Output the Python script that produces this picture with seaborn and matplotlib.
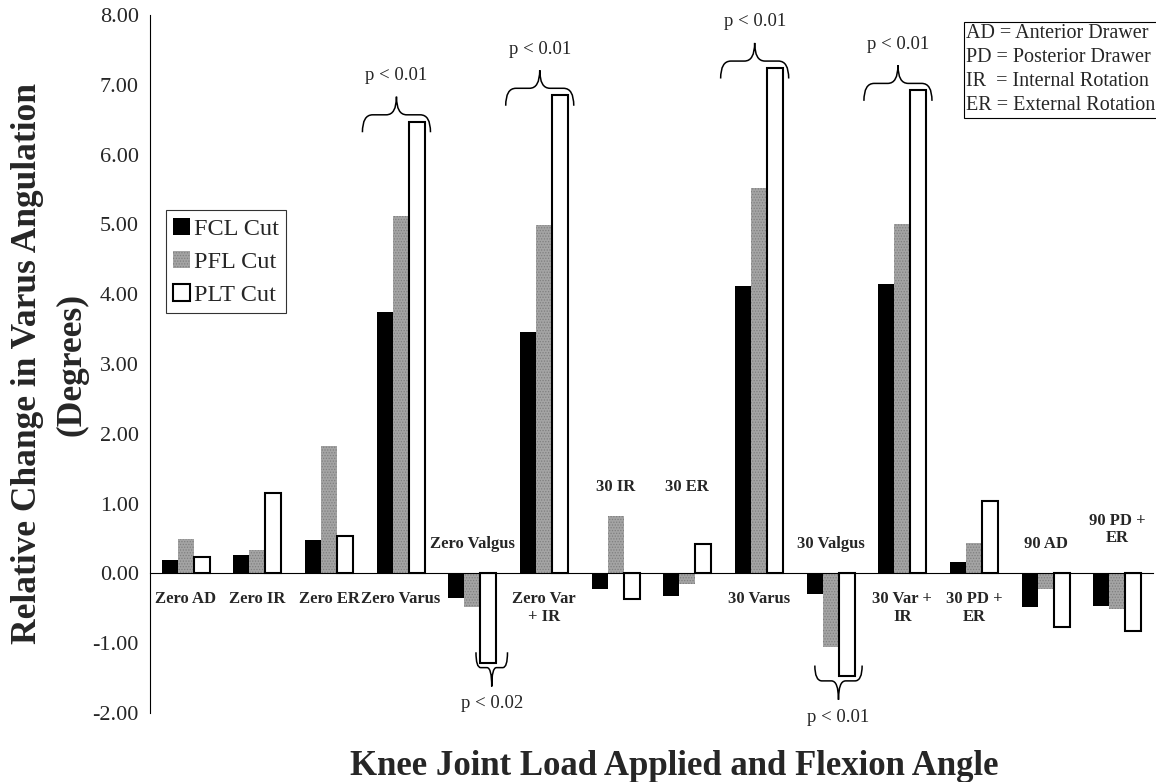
import numpy as np
import pandas as pd
import matplotlib
matplotlib.use("Agg")
import matplotlib.pyplot as plt
import seaborn as sns
from matplotlib.path import Path
from matplotlib.patches import PathPatch

# ---------------- data ----------------
categories = ["Zero AD", "Zero IR", "Zero ER", "Zero Varus", "Zero Valgus",
              "Zero Var + IR", "30 IR", "30 ER", "30 Varus", "30 Valgus",
              "30 Var + IR", "30 PD + ER", "90 AD", "90 PD + ER"]
tick_labels = ["Zero AD", "Zero IR", "Zero ER", "Zero Varus", "Zero Valgus",
               "Zero Var\n+ IR", "30 IR", "30 ER", "30 Varus", "30 Valgus",
               "30 Var +\nIR", "30 PD +\nER", "90 AD", "90 PD +\nER"]
series_names = ["FCL Cut", "PFL Cut", "PLT Cut"]
fcl_cut = [0.19, 0.27, 0.48, 3.74, -0.35, 3.46, -0.22, -0.33, 4.12, -0.30, 4.15, 0.16, -0.48, -0.46]
pfl_cut = [0.50, 0.33, 1.82, 5.12, -0.48, 4.99, 0.82, -0.15, 5.52, -1.06, 5.00, 0.44, -0.23, -0.51]
plt_cut = [0.23, 1.15, 0.53, 6.47, -1.28, 6.85, -0.37, 0.42, 7.24, -1.47, 6.92, 1.04, -0.77, -0.83]
y_ticks = [-2, -1, 0, 1, 2, 3, 4, 5, 6, 7, 8]
sig_up = [("Zero Varus", "p < 0.01"), ("Zero Var + IR", "p < 0.01"),
          ("30 Varus", "p < 0.01"), ("30 Var + IR", "p < 0.01")]
sig_down = [("Zero Valgus", "p < 0.02"), ("30 Valgus", "p < 0.01")]
abbrev = "AD = Anterior Drawer\nPD = Posterior Drawer\nIR  = Internal Rotation\nER = External Rotation"

rows = []
for name, vals in zip(series_names, [fcl_cut, pfl_cut, plt_cut]):
    for c, v in zip(categories, vals):
        rows.append({"load": c, "value": v, "cut": name})
df = pd.DataFrame(rows)

# ---------------- style ----------------
sns.set_theme(style="white")
plt.rcParams["font.family"] = ["Liberation Serif", "DejaVu Serif"]
plt.rcParams["hatch.linewidth"] = 0.6

W, H = 1156, 782
fig = plt.figure(figsize=(W / 100, H / 100), dpi=100)
ax = fig.add_axes([150 / W, 1 - 713 / H, 1003 / W, 698 / H])

sns.barplot(data=df, x="load", y="value", hue="cut", order=categories,
            hue_order=series_names, palette=["black", "#a4a4a4", "white"],
            width=0.67, gap=0, saturation=1, errorbar=None, ax=ax, legend=False)

for bar in ax.containers[0]:
    bar.set_edgecolor("black")
    bar.set_linewidth(0)
for bar in ax.containers[1]:
    bar.set_hatch("......")
    bar.set_edgecolor("#7f7f7f")
    bar.set_linewidth(0)
for bar in ax.containers[2]:
    bar.set_edgecolor("black")
    bar.set_linewidth(1.5)

ax.set_ylim(-2, 8)
ax.set_xlim(-0.5, len(categories) - 0.5)
ax.set_yticks(y_ticks)
ax.set_yticklabels([f"{v:.2f}" for v in y_ticks], fontsize=16)
ax.set_xticks(np.arange(-0.5, len(categories), 1))
ax.set_xticklabels([])
ax.set_xlabel("")
ax.set_ylabel("")
for s in ["top", "right"]:
    ax.spines[s].set_visible(False)
ax.spines["bottom"].set_position(("data", 0))
for s in ["left", "bottom"]:
    ax.spines[s].set_color("black")
    ax.spines[s].set_linewidth(0.8)
ax.tick_params(axis="y", direction="out", length=5, width=0.8, color="black", pad=3)
ax.tick_params(axis="x", direction="out", length=6, width=0.8, color="black")

# category labels (above axis for groups with negative bars)
above_y = {4: 0.42, 6: 1.24, 7: 1.24, 9: 0.42, 12: 0.42, 13: 0.63}
for i, lab in enumerate(tick_labels):
    if i in above_y:
        ax.text(i, above_y[i], lab, ha="center", va="center", fontsize=12,
                fontweight="bold", linespacing=1.15)
    else:
        ax.text(i, -0.25, lab, ha="center", va="top", fontsize=12,
                fontweight="bold", linespacing=1.2)

# legend
leg = ax.legend(ax.containers, series_names, loc="upper left",
                bbox_to_anchor=(0.016, 0.72), frameon=True, fancybox=False,
                edgecolor="black", fontsize=17.5, handlelength=0.7, handleheight=0.7,
                handletextpad=0.15, labelspacing=0.45, borderpad=0.3, borderaxespad=0)
leg.get_frame().set_linewidth(0.8)


def brace(ax, xc, hw, y_end, y_flat, y_tip):
    x0, x1 = xc - hw, xc + hw
    r = hw * 0.3
    verts = [(x0, y_end), (x0, y_flat), (x0 + r, y_flat),
             (xc - r, y_flat), (xc, y_flat), (xc, y_tip),
             (xc, y_flat), (xc + r, y_flat),
             (x1 - r, y_flat), (x1, y_flat), (x1, y_end)]
    codes = [Path.MOVETO, Path.CURVE3, Path.CURVE3,
             Path.LINETO, Path.CURVE3, Path.CURVE3,
             Path.CURVE3, Path.CURVE3,
             Path.LINETO, Path.CURVE3, Path.CURVE3]
    ax.add_patch(PathPatch(Path(verts, codes), fill=False, edgecolor="black",
                           linewidth=1.1, clip_on=False))


for cat, txt in sig_up:
    i = categories.index(cat)
    top = plt_cut[i]
    xc = i - 0.06
    brace(ax, xc, 0.475, top - 0.15, top + 0.1, top + 0.36)
    ax.text(xc, top + 0.66, txt, ha="center", va="center", fontsize=13.5)

down_geom = {"Zero Valgus": (0.27, 0.22), "30 Valgus": (0.11, 0.33)}
for cat, txt in sig_down:
    i = categories.index(cat)
    bot = plt_cut[i]
    off, hw = down_geom[cat]
    xc = i + off
    brace(ax, xc, hw, bot + 0.15, bot - 0.07, bot - 0.34)
    ax.text(xc, bot - 0.59, txt, ha="center", va="center", fontsize=13.5)

# abbreviations box
fig.text(966 / W, 1 - 24 / H, abbrev, ha="left", va="top", fontsize=14.5,
         linespacing=1.36,
         bbox=dict(boxstyle="square,pad=0.12", fc="white", ec="black", lw=0.8))

# axis titles
fig.text(50 / W, 1 - 364 / H, "Relative Change in Varus Angulation\n(Degrees)",
         rotation=90, ha="center", va="center", fontsize=25.5, fontweight="bold",
         linespacing=1.45, multialignment="center")
fig.text(674 / W, 1 - 775 / H, "Knee Joint Load Applied and Flexion Angle",
         ha="center", va="baseline", fontsize=25, fontweight="bold")

fig.savefig("out.png", dpi=100)
